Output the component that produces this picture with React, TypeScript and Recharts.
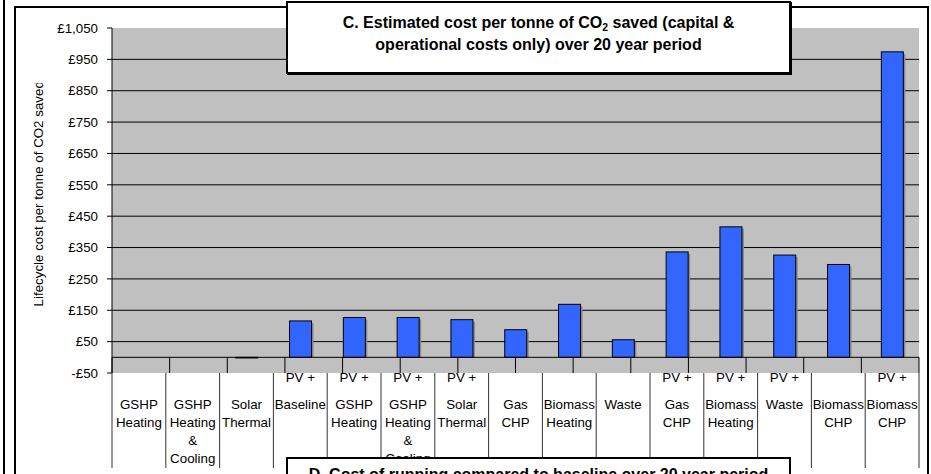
import React from 'react';
import {
  BarChart,
  Bar,
  XAxis,
  YAxis,
  CartesianGrid,
  ReferenceLine,
  ReferenceArea,
} from 'recharts';

// ---- data ----
const categories: string[] = [
  'GSHP Heating',
  'GSHP Heating & Cooling',
  'Solar Thermal',
  'PV + Baseline',
  'PV + GSHP Heating',
  'PV + GSHP Heating & Cooling',
  'PV + Solar Thermal',
  'Gas CHP',
  'Biomass Heating',
  'Waste',
  'PV + Gas CHP',
  'PV + Biomass Heating',
  'PV + Waste',
  'Biomass CHP',
  'PV + Biomass CHP',
];

// Lifecycle cost per tonne of CO2 saved (£); null = no value
const costPerTonne: (number | null)[] = [
  null, null, -2, 116, 127, 127, 120, 88, 169, 56, 336, 416, 326, 296, 974,
];

// Axis label lines: first entry is the "PV +" prefix row, the rest is the name
const categoryLabelLines: string[][] = [
  ['', 'GSHP', 'Heating'],
  ['', 'GSHP', 'Heating', '&', 'Cooling'],
  ['', 'Solar', 'Thermal'],
  ['PV +', 'Baseline'],
  ['PV +', 'GSHP', 'Heating'],
  ['PV +', 'GSHP', 'Heating', '&', 'Cooling'],
  ['PV +', 'Solar', 'Thermal'],
  ['', 'Gas', 'CHP'],
  ['', 'Biomass', 'Heating'],
  ['', 'Waste'],
  ['PV +', 'Gas', 'CHP'],
  ['PV +', 'Biomass', 'Heating'],
  ['PV +', 'Waste'],
  ['', 'Biomass', 'CHP'],
  ['PV +', 'Biomass', 'CHP'],
];

const yTicks: number[] = [-50, 50, 150, 250, 350, 450, 550, 650, 750, 850, 950, 1050];
const gridValues: number[] = [50, 150, 250, 350, 450, 550, 650, 750, 850, 950];

const titleLine1 = 'C. Estimated cost per tonne of CO';
const titleLine1End = ' saved (capital &';
const titleLine2 = 'operational costs only) over 20 year period';
const nextTitle = 'D. Cost of running compared to baseline over 20 year period';
const yAxisTitle = 'Lifecycle cost per tonne of CO2 saved';

// ---- layout ----
const W = 931;
const H = 474;
const MARGIN = { top: 28, right: 12, bottom: 0, left: 52 };
const Y_AXIS_W = 60;
const X_AXIS_H = 101;
const PLOT_W = W - MARGIN.left - Y_AXIS_W - MARGIN.right;
const BAND = PLOT_W / categories.length;
const FONT = '"Liberation Sans", Arial, sans-serif';
const LABEL_SIZE = 13.33;

const data = categories.map((category, i) => ({ category, cost: costPerTonne[i] }));
const categoryEdges = Array.from({ length: categories.length + 1 }, (_, i) => i);

const formatPounds = (v: number) =>
  v < 0 ? `-£${Math.abs(v)}` : `£${v.toLocaleString('en-GB')}`;

const CategoryTick = (props: any) => {
  const { x, y, index } = props;
  const lines = categoryLabelLines[index] ?? [];
  const half = BAND / 2;
  const textProps = {
    textAnchor: 'middle' as const,
    fontFamily: FONT,
    fontSize: LABEL_SIZE,
    fill: '#000',
  };
  return (
    <g>
      <line x1={x - half} x2={x - half} y1={y} y2={y + 95} stroke="#333" strokeWidth={1} />
      {index === categories.length - 1 && (
        <line x1={x + half} x2={x + half} y1={y} y2={y + 95} stroke="#333" strokeWidth={1} />
      )}
      {lines[0] ? (
        <text x={x} y={y + 9} {...textProps}>
          {lines[0]}
        </text>
      ) : null}
      {lines.slice(1).map((line, i) => (
        <text key={i} x={x} y={y + 36 + i * 18} {...textProps}>
          {line}
        </text>
      ))}
    </g>
  );
};

const ShadowedBar = (props: any) => {
  const { x, y, width, height, fill } = props;
  if (x == null || y == null || width == null || height == null) return null;
  const top = height < 0 ? y + height : y;
  const h = Math.abs(height);
  return (
    <g>
      {h > 3 && <rect x={x + 2} y={top + 2} width={width} height={h - 2} fill="#8a8a8a" />}
      <rect x={x} y={top} width={width} height={h} fill={fill} stroke="#000" strokeWidth={1} />
    </g>
  );
};

export default function App() {
  return (
    <div
      style={{
        position: 'absolute',
        left: 0,
        top: 0,
        width: W,
        height: H,
        overflow: 'hidden',
        background: '#fff',
      }}
    >
      <BarChart
        width={W}
        height={H}
        data={data}
        margin={MARGIN}
        barCategoryGap="30%"
      >
        <CartesianGrid
          xAxisId="cat"
          vertical={false}
          horizontalValues={gridValues}
          stroke="#000"
          fill="#C0C0C0"
          fillOpacity={1}
        />
        <XAxis
          xAxisId="cat"
          dataKey="category"
          height={X_AXIS_H}
          interval={0}
          axisLine={false}
          tickLine={false}
          tickSize={0}
          tickMargin={0}
          tick={<CategoryTick />}
        />
        <XAxis
          xAxisId="grid"
          type="number"
          domain={[0, categories.length]}
          allowDataOverflow
          hide
        />
        <YAxis
          width={Y_AXIS_W}
          domain={[-50, 1050]}
          ticks={yTicks}
          interval={0}
          allowDataOverflow
          tickFormatter={formatPounds}
          tickSize={5}
          tickMargin={9}
          axisLine={{ stroke: '#000' }}
          tickLine={{ stroke: '#000' }}
          tick={{ fontFamily: FONT, fontSize: LABEL_SIZE, fill: '#000' }}
        />
        <ReferenceArea
          xAxisId="grid"
          x1={0}
          x2={categories.length}
          y1={-50}
          y2={1050}
          fill="none"
          stroke="#808080"
          strokeWidth={1}
        />
        <Bar
          xAxisId="cat"
          dataKey="cost"
          fill="#3366FF"
          shape={<ShadowedBar />}
          isAnimationActive={false}
        />
        <ReferenceLine xAxisId="grid" y={0} stroke="#000" strokeWidth={1} />
        {categoryEdges.map((k) => (
          <ReferenceLine
            key={k}
            xAxisId="grid"
            segment={[
              { x: k, y: 0 },
              { x: k, y: -50 },
            ]}
            stroke="#000"
            strokeWidth={1}
          />
        ))}
      </BarChart>

      <svg
        width={W}
        height={H}
        style={{ position: 'absolute', left: 0, top: 0, pointerEvents: 'none' }}
      >
        <defs>
          <clipPath id="y-title-clip">
            <rect x={0} y={83} width={90} height={H} />
          </clipPath>
        </defs>
        <line x1={4} y1={0} x2={4} y2={H} stroke="#000" strokeWidth={2} />
        <rect x={15} y={7} width={913} height={600} fill="none" stroke="#000" strokeWidth={2} />
        <g clipPath="url(#y-title-clip)">
          <text
            transform="translate(42.5 81.2) rotate(-90)"
            textAnchor="end"
            fontFamily={FONT}
            fontSize={LABEL_SIZE}
            fill="#000"
          >
            {yAxisTitle}
          </text>
        </g>
      </svg>

      <div
        style={{
          position: 'absolute',
          left: 286,
          top: 1,
          width: 505,
          height: 73,
          boxSizing: 'border-box',
          border: '2px solid #000',
          boxShadow: '1px 1px 0 #000',
          background: '#fff',
          fontFamily: FONT,
          fontWeight: 'bold',
          fontSize: 16,
          lineHeight: '20.5px',
          textAlign: 'center',
          paddingTop: 9.5,
          color: '#000',
        }}
      >
        {titleLine1}
        <span style={{ fontSize: '0.65em', position: 'relative', top: '0.3em' }}>2</span>
        {titleLine1End}
        <br />
        {titleLine2}
      </div>

      <div
        style={{
          position: 'absolute',
          left: 286,
          top: 457,
          width: 505,
          height: 60,
          boxSizing: 'border-box',
          border: '2px solid #000',
          background: '#fff',
          fontFamily: FONT,
          fontWeight: 'bold',
          fontSize: 16,
          lineHeight: '20.5px',
          textAlign: 'center',
          paddingTop: 5.5,
          color: '#000',
        }}
      >
        {nextTitle}
      </div>
    </div>
  );
}
